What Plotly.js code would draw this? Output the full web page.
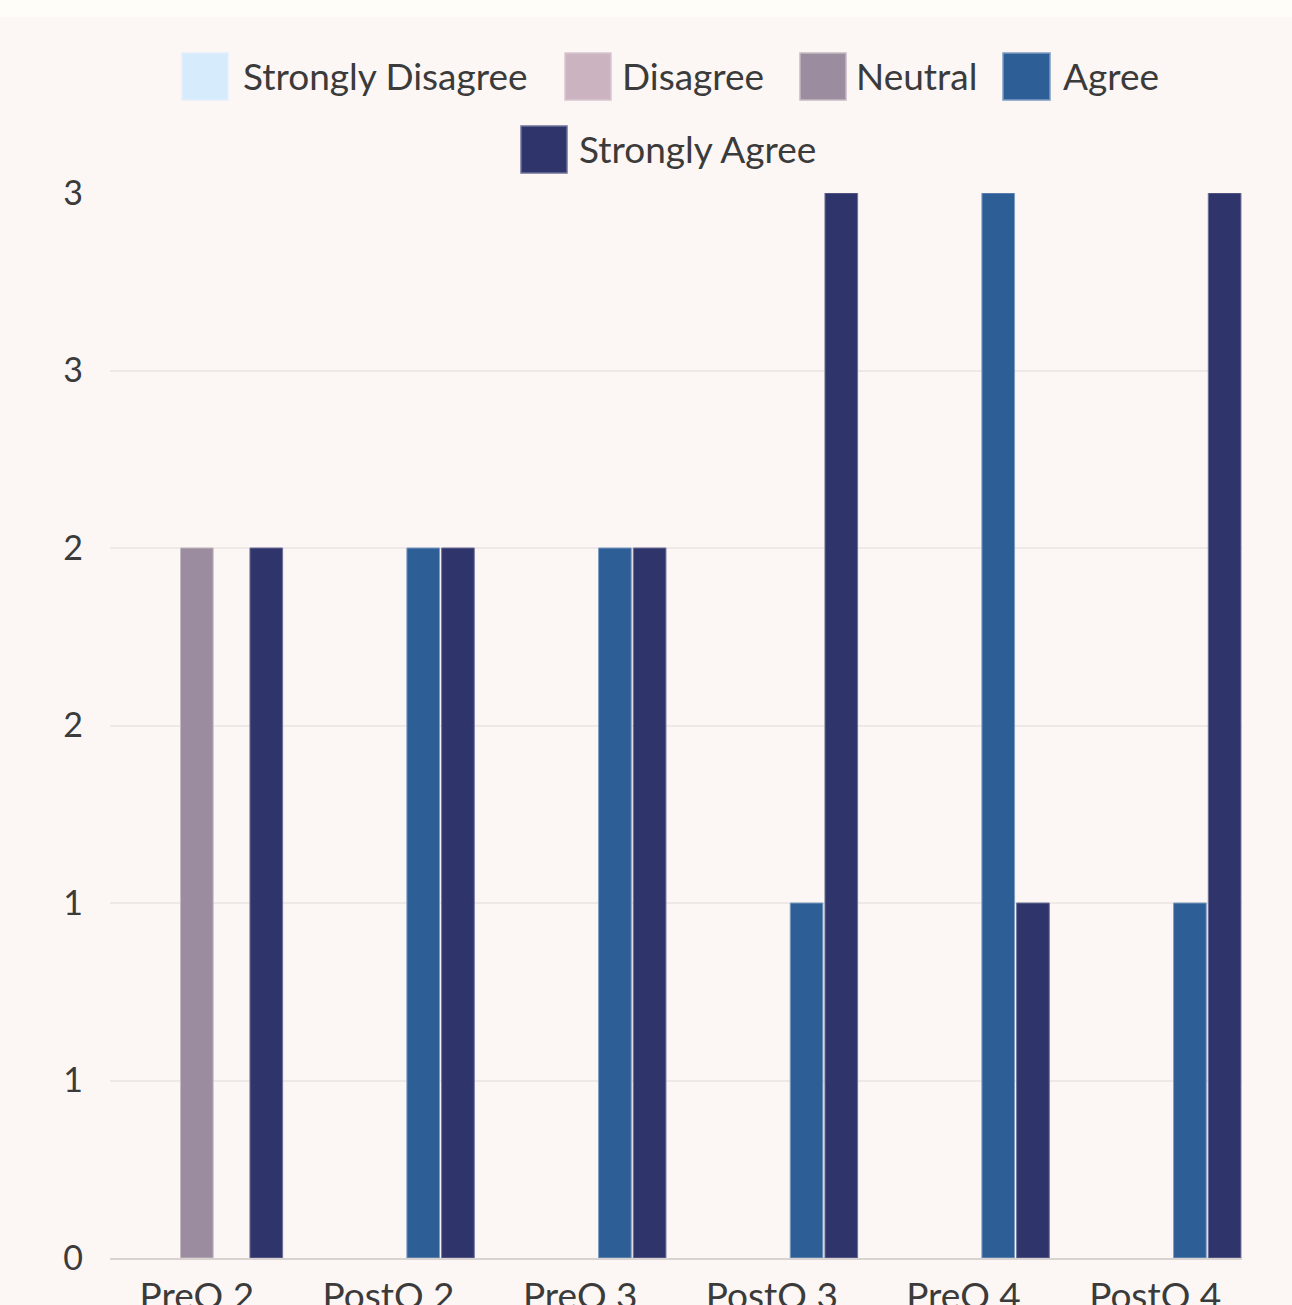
<!DOCTYPE html>
<html>
<head>
<meta charset="utf-8">
<script src="https://cdn.plot.ly/plotly-3.0.1.min.js"></script>
<style>
html,body{margin:0;padding:0;background:#fcf7f5;}
#chart{width:1292px;height:1305px;}
</style>
</head>
<body>
<div id="chart"></div>
<script>
// ---- data ----
const categories = ['PreQ 2', 'PostQ 2', 'PreQ 3', 'PostQ 3', 'PreQ 4', 'PostQ 4'];
const seriesNames = ['Strongly Disagree', 'Disagree', 'Neutral', 'Agree', 'Strongly Agree'];
const stronglyDisagree = [0, 0, 0, 0, 0, 0];
const disagree = [0, 0, 0, 0, 0, 0];
const neutral = [2, 0, 0, 0, 0, 0];
const agree = [0, 2, 2, 1, 3, 1];
const stronglyAgree = [2, 2, 2, 3, 1, 3];
const yTickVals = [0, 0.5, 1, 1.5, 2, 2.5, 3];
const yTickText = ['0', '1', '1', '2', '2', '3', '3'];

// ---- styles ----
const seriesValues = [stronglyDisagree, disagree, neutral, agree, stronglyAgree];
const fillColors = ['#d6ebfb', '#cbb3c0', '#9b8d9f', '#2e5e96', '#2f346b'];
const edgeColors = ['#e3f0fb', '#d8c6cf', '#c4bac2', '#7e9cc2', '#6e7198'];
const FONT = 'Lato, "Noto Sans", sans-serif';
const TEXT = '#3b3b3b';

const W = 1292, H = 1305;
const M = {l: 110, r: 50, t: 193, b: 47};
const pw = W - M.l - M.r, ph = H - M.t - M.b;
const xp = px => (px - M.l) / pw;
const yp = py => (H - M.b - py) / ph;

const traces = seriesNames.map((name, i) => ({
  type: 'bar',
  name: name,
  x: categories,
  y: seriesValues[i],
  marker: {
    color: fillColors[i],
    line: {color: edgeColors[i], width: seriesValues[i].map(v => (v ? 1 : 0))}
  },
  hoverinfo: 'x+y+name'
}));

// custom legend (large swatches like the reference)
const legendSlots = [
  {sx: 182, ex: 228, tx: 241, y0: 53, y1: 100},
  {sx: 565, ex: 611, tx: 620, y0: 53, y1: 100},
  {sx: 800, ex: 846, tx: 854, y0: 53, y1: 100},
  {sx: 1003, ex: 1050, tx: 1061, y0: 53, y1: 100},
  {sx: 521, ex: 567, tx: 577, y0: 126, y1: 173}
];

const shapes = [
  {type: 'rect', xref: 'paper', yref: 'paper', x0: xp(0), x1: xp(W), y0: yp(17), y1: yp(0),
   fillcolor: '#fffdf7', line: {width: 0}, layer: 'below'}
];
const annotations = [];
seriesNames.forEach((name, i) => {
  const s = legendSlots[i];
  shapes.push({type: 'rect', xref: 'paper', yref: 'paper',
    x0: xp(s.sx), x1: xp(s.ex), y0: yp(s.y1), y1: yp(s.y0),
    fillcolor: fillColors[i], line: {color: edgeColors[i], width: 1.5}});
  annotations.push({xref: 'paper', yref: 'paper', x: xp(s.tx), y: yp((s.y0 + s.y1) / 2 - 1),
    xanchor: 'left', yanchor: 'middle', showarrow: false, text: name,
    font: {family: FONT, size: 37, color: TEXT}});
});

const layout = {
  width: W, height: H,
  margin: M,
  paper_bgcolor: '#fcf7f5',
  plot_bgcolor: 'rgba(0,0,0,0)',
  showlegend: false,
  barmode: 'group',
  bargap: 0.094,
  bargroupgap: 0.06,
  font: {family: FONT, size: 36, color: TEXT},
  xaxis: {
    type: 'category',
    range: [-0.453, 5.453],
    showgrid: false,
    showline: true, linecolor: '#d8d3d1', linewidth: 2,
    ticks: '', ticklabelstandoff: 5,
    tickfont: {family: FONT, size: 37, color: TEXT},
    fixedrange: true
  },
  yaxis: {
    range: [0, 3],
    tickvals: yTickVals, ticktext: yTickText,
    showgrid: true, gridcolor: '#eee9e6', gridwidth: 2,
    zeroline: false, showline: false,
    ticks: '', ticklabelstandoff: 26,
    tickfont: {family: FONT, size: 34, color: TEXT},
    fixedrange: true
  },
  shapes: shapes,
  annotations: annotations
};

Plotly.newPlot('chart', traces, layout, {displayModeBar: false, staticPlot: true});
</script>
</body>
</html>
